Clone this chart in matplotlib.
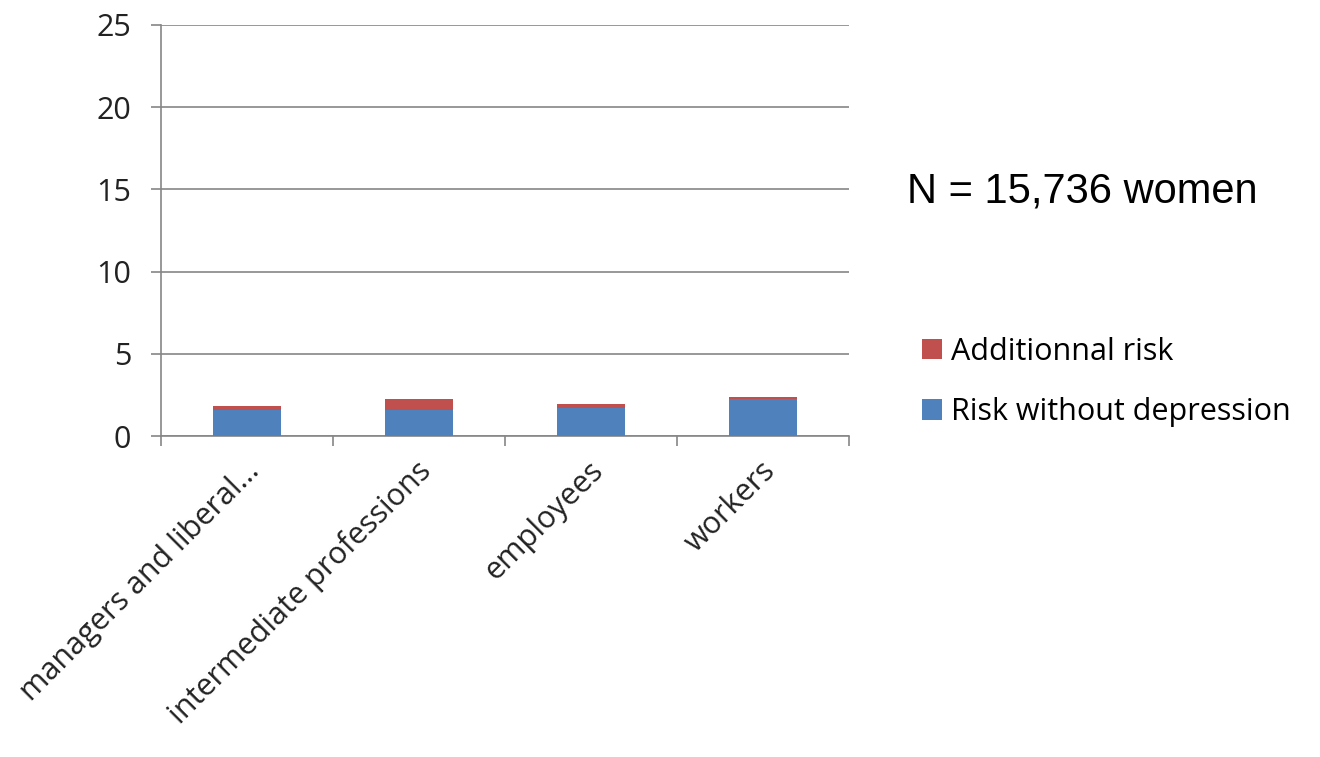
import matplotlib.pyplot as plt
import matplotlib.transforms as mtransforms
import numpy as np

categories = ["managers and liberal...", "intermediate professions", "employees", "workers"]
risk_without = [1.61, 1.61, 1.73, 2.23]
additional = [0.24, 0.64, 0.20, 0.14]

BLUE = "#4F81BD"
RED = "#C0504D"
GREY = "#868686"

plt.rcParams['font.family'] = ['Open Sans', 'DejaVu Sans']

fig = plt.figure(figsize=(13.2, 7.57), dpi=100)
ax = fig.add_axes([161 / 1320, 1 - 436 / 757, (849 - 161) / 1320, (436 - 25) / 757])

x = np.arange(len(categories))
ax.bar(x, risk_without, width=0.4, color=BLUE, label="Risk without depression", zorder=3)
ax.bar(x, additional, width=0.4, bottom=risk_without, color=RED, label="Additionnal risk", zorder=3)

ax.set_xlim(-0.5, len(categories) - 0.5)
ax.set_ylim(0, 25)
ax.set_yticks(range(0, 26, 5))
ax.yaxis.grid(True, color=GREY, linewidth=1.2, zorder=0)
ax.tick_params(axis='y', length=7.5, color=GREY, width=1.2, labelsize=22, pad=14, labelcolor='#222222')

ax.set_xticks(x)
ax.set_xticklabels(categories, rotation=45, ha='right', va='center', rotation_mode='anchor',
                   fontsize=22, color='#222222')
ax.tick_params(axis='x', which='major', length=0, pad=22)
# nudge the rotated labels a little to the right, like the original
shift = mtransforms.ScaledTranslation(8 / 100, 0, fig.dpi_scale_trans)
for lab in ax.get_xticklabels():
    lab.set_transform(lab.get_transform() + shift)
ax.set_xticks(np.arange(-0.5, len(categories), 1.0), minor=True)
ax.tick_params(axis='x', which='minor', length=7.5, color=GREY, width=1.2)

for s in ['top', 'right']:
    ax.spines[s].set_visible(False)
for s in ['left', 'bottom']:
    ax.spines[s].set_color(GREY)
    ax.spines[s].set_linewidth(1.2)

handles, labels = ax.get_legend_handles_labels()
fig.legend(handles[::-1], labels[::-1], loc='center left',
           bbox_to_anchor=(895 / 1320, 1 - 382 / 757), frameon=False,
           fontsize=22, handlelength=0.65, handleheight=0.65, handletextpad=0.28,
           labelspacing=1.0)

fig.text(907 / 1320, 1 - 192 / 757, "N = 15,736 women", fontsize=30,
         family='Liberation Sans', va='center', ha='left')

fig.savefig("out.png", dpi=100)
